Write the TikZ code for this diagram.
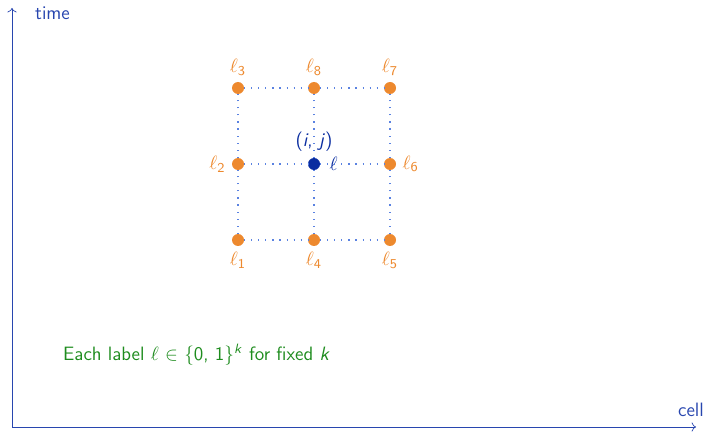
\documentclass[tikz,border=0pt]{standalone}
\usepackage{amsmath,amssymb}
\usepackage{xcolor}
\usepackage{tikz}
\usetikzlibrary{arrows.meta,positioning,calc}
\definecolor{axisblue}{RGB}{40,70,175}
\definecolor{cellorange}{RGB}{237,137,46}
\definecolor{cellblue}{RGB}{10,45,160}
\definecolor{gridblue}{RGB}{90,130,225}
\definecolor{notegreen}{RGB}{30,140,30}
\newcommand{\sfv}[1]{\textit{#1}}
\newcommand{\lab}[1]{$\ell_{\text{#1}}$}

\begin{document}
\begin{tikzpicture}[x=0.02cm,y=-0.02cm,font=\fontsize{11}{13.5}\selectfont\sffamily]
  \tikzstyle{dot}=[circle,fill=cellorange,inner sep=0pt,minimum size=0.24cm,label distance=0.02cm]
  \tikzstyle{olab}=[text=cellorange]
  \tikzstyle{link}=[gridblue,line width=0.6pt,dash pattern=on 0.6pt off 3.4pt]
  \useasboundingbox (0,0) rectangle (706,432);
  % axes
  \coordinate (origin) at (12,427);
  \coordinate (ttop) at (12,8);
  \coordinate (cright) at (696,427);
  \draw[axisblue,->] (origin) -- (ttop);
  \draw[axisblue,->] (origin) -- (cright);
  \node[text=axisblue,anchor=west] (time) at (29,13) {time};
  \node[text=axisblue] (cell) at (691,410) {cell};
  % neighbourhood of (i,j)
  \node[dot,label={[olab]below:\lab{1}}] (l1) at (238,240) {};
  \node[dot,label={[olab]left:\lab{2}}] (l2) at (238,164) {};
  \node[dot,label={[olab]above:\lab{3}}] (l3) at (238,88) {};
  \node[dot,label={[olab]below:\lab{4}}] (l4) at (314,240) {};
  \node[dot,label={[olab]below:\lab{5}}] (l5) at (390,240) {};
  \node[dot,label={[olab]right:\lab{6}}] (l6) at (390,164) {};
  \node[dot,label={[olab]above:\lab{7}}] (l7) at (390,88) {};
  \node[dot,label={[olab]above:\lab{8}}] (l8) at (314,88) {};
  \node[dot,fill=cellblue,label={[text=cellblue]above:(\sfv{i}, \sfv{j})},label={[text=cellblue,label distance=0.06cm]right:$\ell$}] (c) at (314,164) {};
  \draw[link] (l1) -- (l4); \draw[link] (l4) -- (l5);
  \draw[link] (l2) -- (c); \draw[link] (c) -- (l6);
  \draw[link] (l3) -- (l8); \draw[link] (l8) -- (l7);
  \draw[link] (l1) -- (l2); \draw[link] (l2) -- (l3);
  \draw[link] (l4) -- (c); \draw[link] (c) -- (l8);
  \draw[link] (l5) -- (l6); \draw[link] (l6) -- (l7);
  \node[text=notegreen,anchor=west] (note) at (57,355) {Each label $\ell$ $\in$ \{0, 1\}\textsuperscript{\sfv{k}} for fixed \sfv{k}};
\end{tikzpicture}
\end{document}
